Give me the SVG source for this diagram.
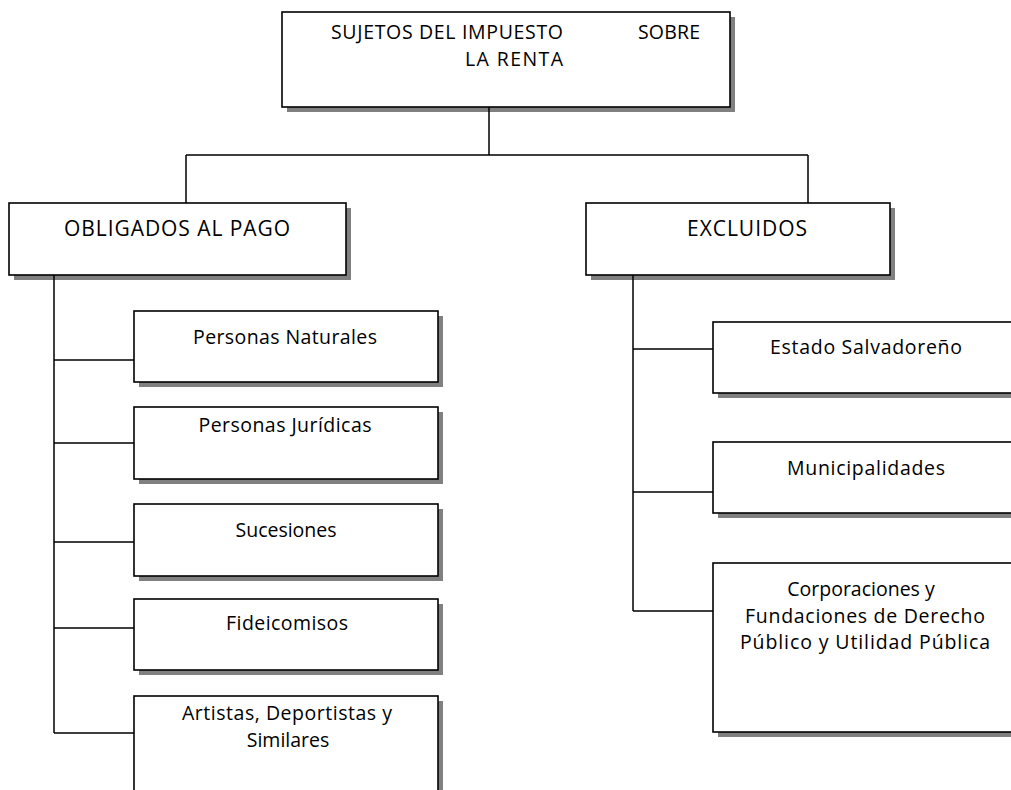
<svg xmlns="http://www.w3.org/2000/svg" width="1011" height="790" viewBox="0 0 1011 790">
  <style>
    .shadow { fill: #808080; }
    .box { fill: #ffffff; stroke: #000000; stroke-width: 1.6; }
    .label { font-family: "Open Sans", "DejaVu Sans", sans-serif; font-size: 19.5px; fill: #000000; text-anchor: middle; }
    .caps { font-size: 21px; }
    .link { fill: none; stroke: #000000; stroke-width: 1.5; }
  </style>
  <rect width="1011" height="790" fill="#ffffff"/>

  <!-- root -->
  <g id="sujetos">
    <rect class="shadow" x="287" y="17" width="448" height="95"/>
    <rect class="box" x="282" y="12" width="448" height="95"/>
    <text class="label" x="331" y="39" style="text-anchor:start" textLength="232">SUJETOS DEL IMPUESTO</text>
    <text class="label" x="638" y="39" style="text-anchor:start" textLength="62">SOBRE</text>
    <text class="label" x="514" y="66" textLength="98">LA RENTA</text>
  </g>

  <!-- second level -->
  <g id="obligados">
    <rect class="shadow" x="14" y="208" width="337" height="72"/>
    <rect class="box" x="9" y="203" width="337" height="72"/>
    <text class="label caps" x="177" y="236" textLength="226">OBLIGADOS AL PAGO</text>
  </g>
  <g id="excluidos">
    <rect class="shadow" x="591" y="208" width="304" height="72"/>
    <rect class="box" x="586" y="203" width="304" height="72"/>
    <text class="label caps" x="747" y="236" textLength="120">EXCLUIDOS</text>
  </g>

  <!-- obligados al pago -->
  <g id="personas-naturales">
    <rect class="shadow" x="139" y="316" width="304" height="71"/>
    <rect class="box" x="134" y="311" width="304" height="71"/>
    <text class="label" x="285" y="344" textLength="184">Personas Naturales</text>
  </g>
  <g id="personas-juridicas">
    <rect class="shadow" x="139" y="412" width="304" height="72"/>
    <rect class="box" x="134" y="407" width="304" height="72"/>
    <text class="label" x="285" y="432" textLength="173">Personas Jurídicas</text>
  </g>
  <g id="sucesiones">
    <rect class="shadow" x="139" y="509" width="304" height="72"/>
    <rect class="box" x="134" y="504" width="304" height="72"/>
    <text class="label" x="286" y="537" textLength="101">Sucesiones</text>
  </g>
  <g id="fideicomisos">
    <rect class="shadow" x="139" y="604" width="304" height="71"/>
    <rect class="box" x="134" y="599" width="304" height="71"/>
    <text class="label" x="287" y="630" textLength="122">Fideicomisos</text>
  </g>
  <g id="artistas">
    <rect class="shadow" x="139" y="701" width="304" height="110"/>
    <rect class="box" x="134" y="696" width="304" height="110"/>
    <text class="label" x="287" y="720" textLength="210">Artistas, Deportistas y</text>
    <text class="label" x="288" y="747">Similares</text>
  </g>

  <!-- excluidos -->
  <g id="estado">
    <rect class="shadow" x="718" y="327" width="310" height="71"/>
    <rect class="box" x="713" y="322" width="310" height="71"/>
    <text class="label" x="866" y="354" textLength="192">Estado Salvadoreño</text>
  </g>
  <g id="municipalidades">
    <rect class="shadow" x="718" y="447" width="310" height="71"/>
    <rect class="box" x="713" y="442" width="310" height="71"/>
    <text class="label" x="866" y="475" textLength="158">Municipalidades</text>
  </g>
  <g id="corporaciones">
    <rect class="shadow" x="718" y="568" width="310" height="169"/>
    <rect class="box" x="713" y="563" width="310" height="169"/>
    <text class="label" x="861" y="596">Corporaciones y</text>
    <text class="label" x="865" y="623" textLength="240">Fundaciones de Derecho</text>
    <text class="label" x="865" y="649" textLength="250">Público y Utilidad Pública</text>
  </g>

  <!-- connectors -->
  <g id="connectors">
    <path class="link" d="M489,107 V155 M186,155 H808 M186,155 V203 M808,155 V203"/>
    <path class="link" d="M54,275 V733 M54,360 H134 M54,443 H134 M54,542 H134 M54,628 H134 M54,733 H134"/>
    <path class="link" d="M633,275 V611 M633,349 H713 M633,492 H713 M633,611 H713"/>
  </g>
</svg>
